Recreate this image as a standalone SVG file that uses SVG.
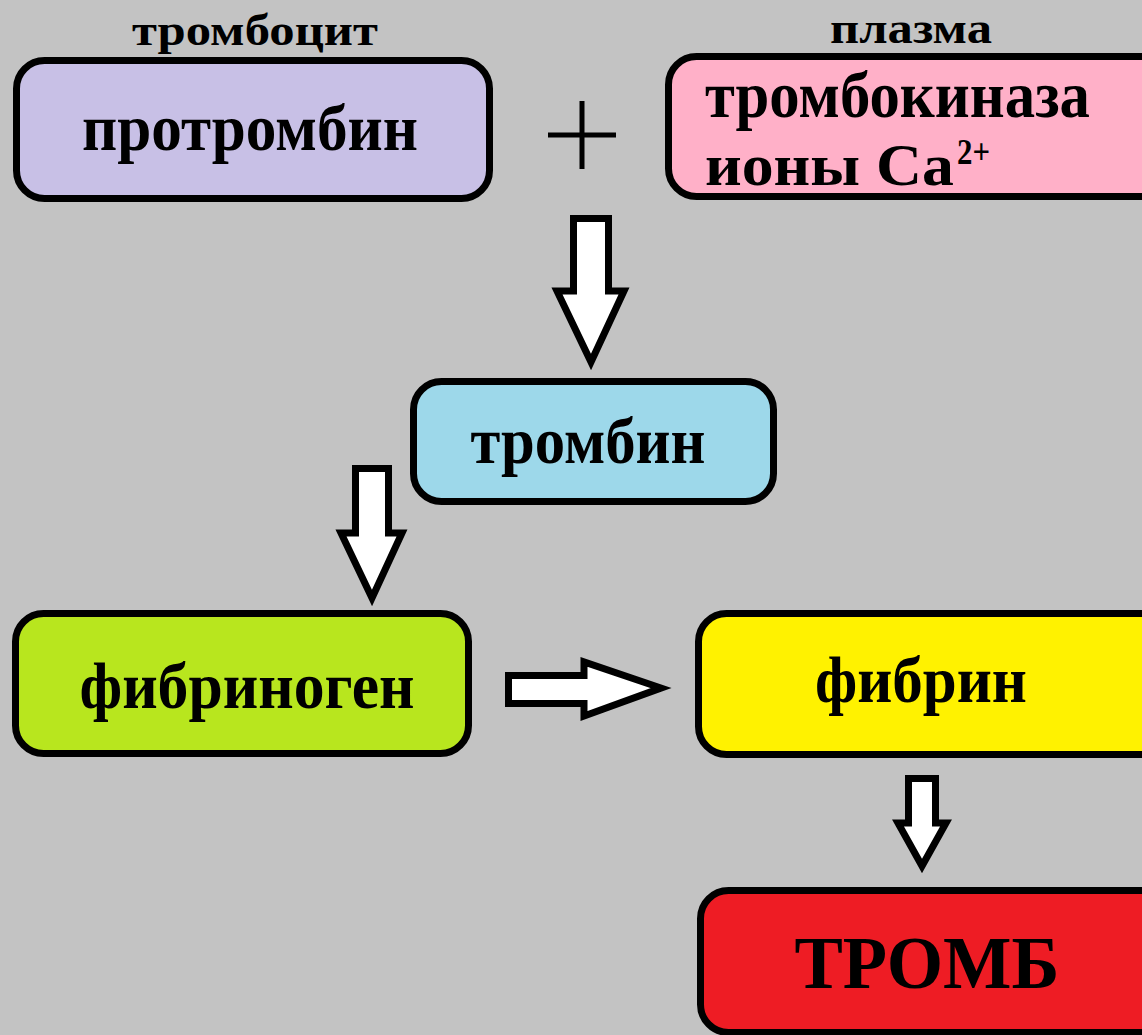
<svg xmlns="http://www.w3.org/2000/svg" width="1142" height="1035" viewBox="0 0 1142 1035">
<style>
.box{stroke:#000;stroke-width:7}
.t{font-family:"Liberation Serif","Times New Roman",serif;font-weight:bold;fill:#000}
.arrow{fill:#fff;stroke:#000;stroke-width:7;stroke-linejoin:miter;stroke-miterlimit:10}
</style>
<rect x="0" y="0" width="1142" height="1035" fill="#c3c3c3"/>
<text class="t" x="255" y="45" font-size="44" text-anchor="middle" textLength="246" lengthAdjust="spacingAndGlyphs">тромбоцит</text>
<text class="t" x="911" y="43" font-size="44" text-anchor="middle" textLength="162" lengthAdjust="spacingAndGlyphs">плазма</text>
<g id="prothrombin">
<rect class="box" x="16.5" y="60.5" width="473" height="138" rx="28" fill="#c8c0e6"/>
<text class="t" x="250" y="150" font-size="65" text-anchor="middle" textLength="336" lengthAdjust="spacingAndGlyphs">протромбин</text>
</g>
<g id="plus">
<path d="M548 135H616M582 101V169" stroke="#000" stroke-width="5" fill="none"/>
</g>
<g id="thrombokinase">
<rect class="box" x="668.5" y="56.5" width="500" height="140" rx="28" fill="#ffb0c8"/>
<text class="t" x="705" y="117" font-size="66" textLength="385" lengthAdjust="spacingAndGlyphs">тромбокиназа</text>
<text class="t" x="705" y="185" font-size="60"><tspan textLength="249" lengthAdjust="spacingAndGlyphs">ионы Ca</tspan><tspan x="957" y="164" font-size="36" textLength="33" lengthAdjust="spacingAndGlyphs">2+</tspan></text>
</g>
<g id="thrombin">
<rect class="box" x="413.5" y="381.5" width="360" height="120" rx="28" fill="#9dd8ea"/>
<text class="t" x="588" y="463" font-size="65" text-anchor="middle" textLength="235" lengthAdjust="spacingAndGlyphs">тромбин</text>
</g>
<g id="fibrinogen">
<rect class="box" x="15.5" y="613.5" width="453" height="140" rx="28" fill="#b8e61e"/>
<text class="t" x="247" y="708" font-size="65" text-anchor="middle" textLength="335" lengthAdjust="spacingAndGlyphs">фибриноген</text>
</g>
<g id="fibrin">
<rect class="box" x="698.5" y="613.5" width="470" height="141" rx="28" fill="#fff200"/>
<text class="t" x="921" y="702" font-size="65" text-anchor="middle" textLength="212" lengthAdjust="spacingAndGlyphs">фибрин</text>
</g>
<g id="thromb">
<rect class="box" x="700.5" y="890.5" width="470" height="142" rx="28" fill="#ee1c24"/>
<text class="t" x="927" y="988" font-size="73" text-anchor="middle" textLength="265" lengthAdjust="spacingAndGlyphs">ТРОМБ</text>
</g>
<g id="connectors">
<polygon class="arrow" points="573.5,218.5 608.5,218.5 608.5,291 624,291 591,362 557,291 573.5,291"/>
<polygon class="arrow" points="355.5,468.5 388.5,468.5 388.5,533 402,533 372,598 341,533 355.5,533"/>
<polygon class="arrow" points="508.5,675.5 584,675.5 584,662 661,688 584,716 584,703.5 508.5,703.5"/>
<polygon class="arrow" points="908.5,778.5 935.5,778.5 935.5,823 946,823 922,866 898,823 908.5,823"/>
</g>
</svg>
